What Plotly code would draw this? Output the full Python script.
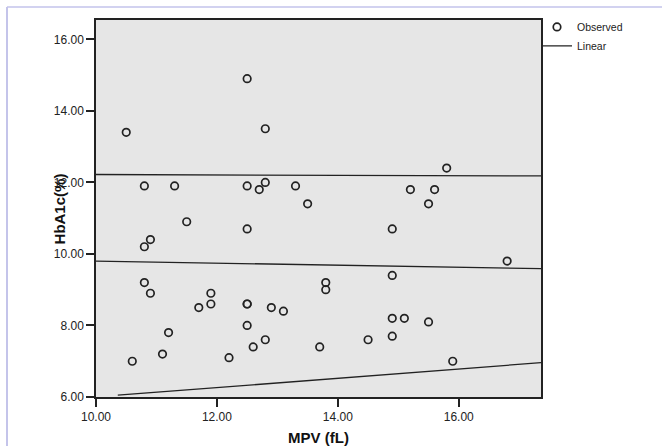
import plotly.graph_objects as go

# Observed data (MPV fL, HbA1c %)
mpv = [10.5, 10.8, 11.3, 12.5, 12.8, 12.5, 12.7, 12.8, 13.3, 13.5, 11.5,
       15.8, 15.2, 15.6, 15.5,
       10.8, 10.9, 12.5, 10.8, 10.9, 10.6, 11.2, 11.1, 11.7, 11.9, 11.9,
       12.5, 12.5, 12.5, 12.2, 12.6, 12.8, 12.9, 13.1, 13.7, 13.8, 13.8,
       14.9, 16.8, 14.9, 14.9, 15.1, 15.5, 14.5, 14.9, 15.9]
hba1c = [13.4, 11.9, 11.9, 14.9, 13.5, 11.9, 11.8, 12.0, 11.9, 11.4, 10.9,
         12.4, 11.8, 11.8, 11.4,
         10.2, 10.4, 10.7, 9.2, 8.9, 7.0, 7.8, 7.2, 8.5, 8.6, 8.9,
         8.6, 8.6, 8.0, 7.1, 7.4, 7.6, 8.5, 8.4, 7.4, 9.2, 9.0,
         10.7, 9.8, 9.4, 8.2, 8.2, 8.1, 7.6, 7.7, 7.0]

# Linear fit and interval lines
fit_x = [10.0, 17.36]
fit_y = [9.80, 9.59]
upper_x = [10.0, 13.65, 13.65, 17.36]
upper_y = [12.22, 12.21, 12.19, 12.18]
lower_x = [10.36, 17.36]
lower_y = [6.05, 6.96]

x_ticks = [10, 12, 14, 16]
y_ticks = [6, 8, 10, 12, 14, 16]

fig = go.Figure()
fig.add_trace(go.Scatter(
    x=mpv, y=hba1c, mode="markers", name="Observed",
    marker=dict(symbol="circle-open", size=7.5, color="#222222",
                line=dict(width=1.7, color="#222222")),
))
fig.add_trace(go.Scatter(
    x=fit_x, y=fit_y, mode="lines", name="Linear",
    line=dict(color="#222222", width=1.3),
))
fig.add_trace(go.Scatter(
    x=upper_x, y=upper_y, mode="lines", showlegend=False,
    line=dict(color="#222222", width=1.3),
))
fig.add_trace(go.Scatter(
    x=lower_x, y=lower_y, mode="lines", showlegend=False,
    line=dict(color="#222222", width=1.3),
))

axis_common = dict(
    showgrid=False, zeroline=False, showline=True, linecolor="#222222",
    linewidth=1.5, ticks="outside", ticklen=8, tickwidth=1.5,
    tickcolor="#222222", mirror=True,
    tickfont=dict(family="Arial, Liberation Sans", size=12, color="#222222"),
)

fig.update_layout(
    width=662, height=446,
    margin=dict(l=96, r=121, t=20, b=49, autoexpand=False),
    paper_bgcolor="white", plot_bgcolor="#e6e6e6",
    showlegend=True,
    legend=dict(x=0.991, xanchor="left", y=1.02, yanchor="top",
                bgcolor="rgba(0,0,0,0)", tracegroupgap=0, itemwidth=30,
                font=dict(family="Arial, Liberation Sans", size=10.5, color="#222222")),
    xaxis=dict(range=[10, 17.36], tickvals=x_ticks,
               ticktext=[f"{v:.2f}" for v in x_ticks],
               title=dict(text="<b>MPV (fL)</b>", standoff=9,
                          font=dict(family="Arial, Liberation Sans", size=15, color="#111111")),
               **axis_common),
    yaxis=dict(range=[6, 16.54], tickvals=y_ticks,
               ticktext=[f"{v:.2f}" for v in y_ticks],
               **axis_common),
    annotations=[
        dict(text="<b>HbA1c(%)</b>", xref="paper", yref="paper",
             x=-0.081, y=0.5, xanchor="center", yanchor="middle",
             textangle=-90, showarrow=False,
             font=dict(family="Arial, Liberation Sans", size=15, color="#111111")),
    ],
    shapes=[
        dict(type="line", xref="paper", yref="paper", x0=-0.2, x1=1.3,
             y0=1.0345, y1=1.0345, line=dict(color="#d2d2f0", width=2)),
        dict(type="line", xref="paper", yref="paper", x0=-0.2, x1=-0.2,
             y0=-0.2, y1=1.0345, line=dict(color="#c4c4ea", width=2)),
    ],
)

fig.write_html("out.html", config={"displayModeBar": False},
               post_script="document.body.style.margin='0px';document.body.style.overflow='hidden';")
